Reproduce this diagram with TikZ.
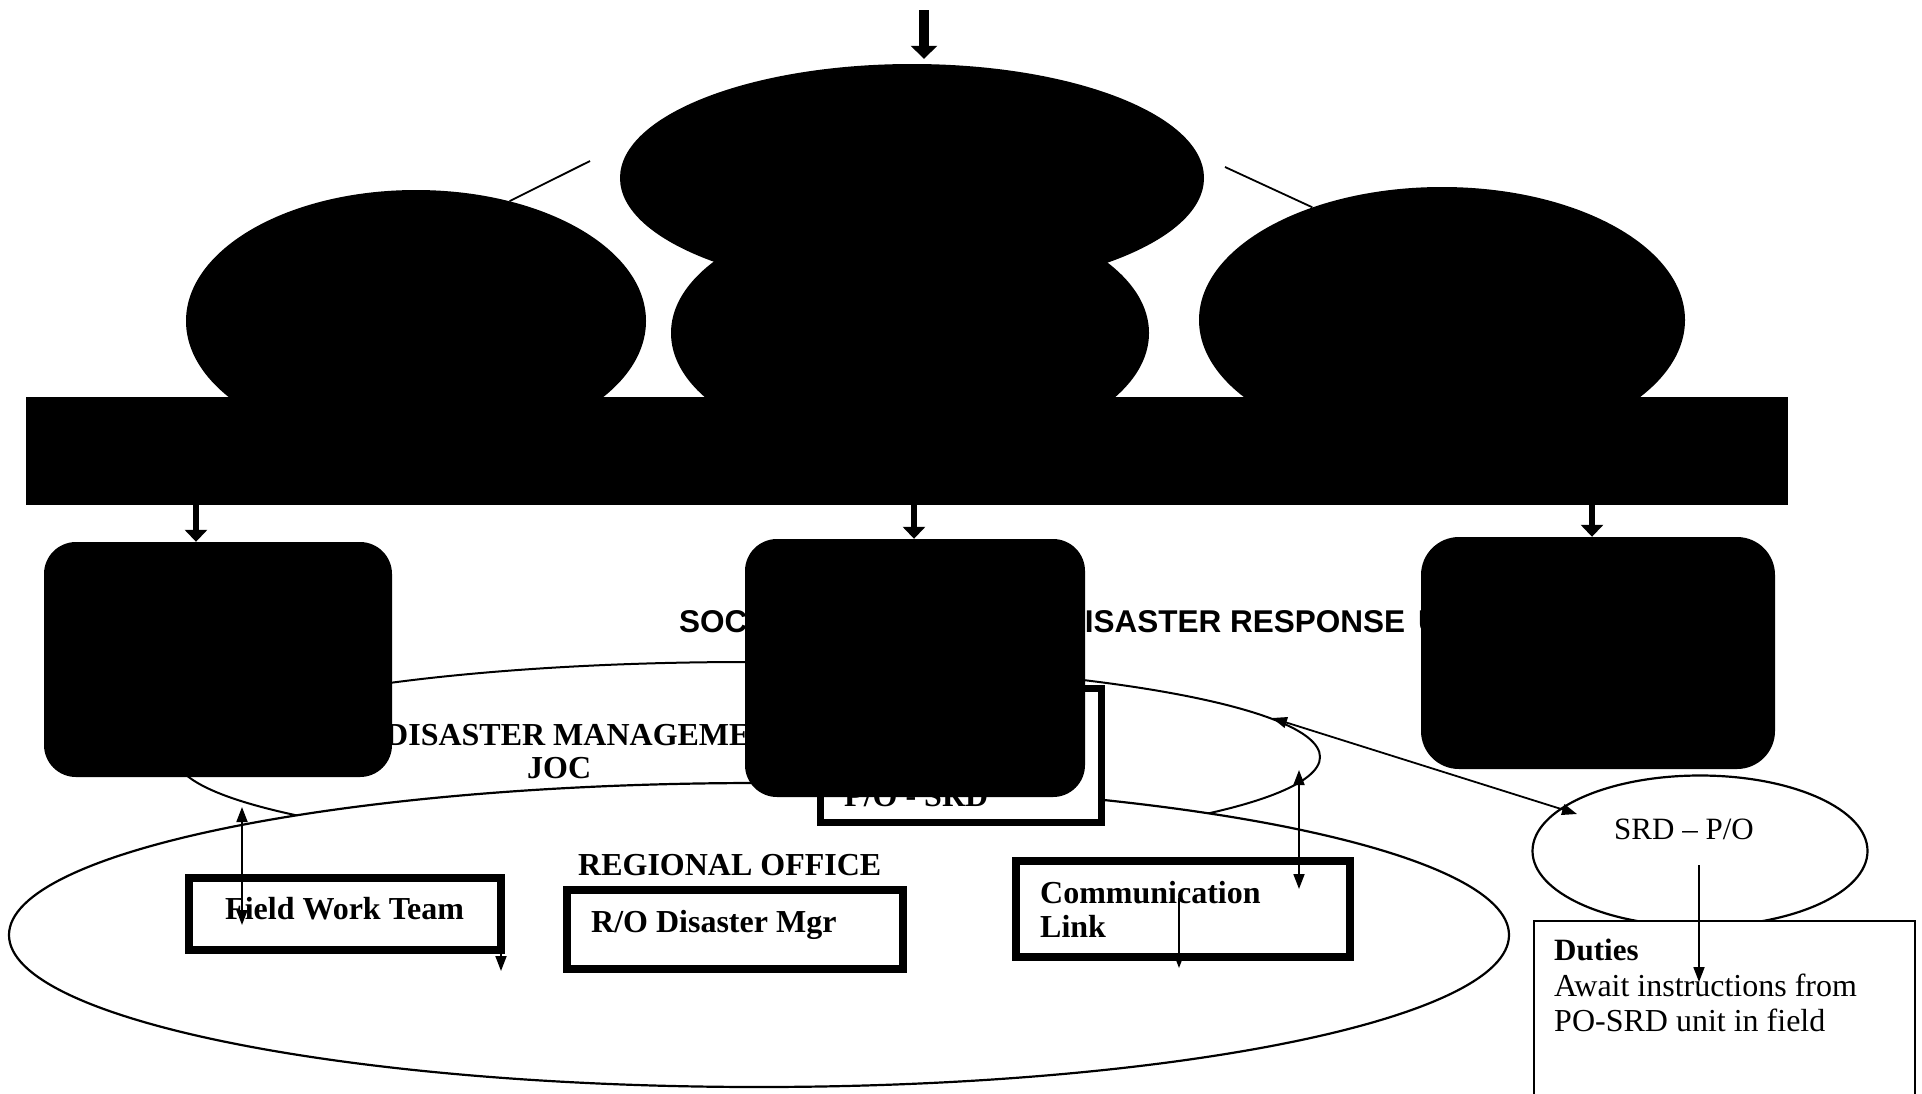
\documentclass[tikz,border=0pt]{standalone}
\usepackage{fontspec}
\setmainfont{Liberation Serif}
\newfontfamily\arialf{Liberation Sans}
\usetikzlibrary{shapes.geometric,arrows.meta}
\begin{document}
\begin{tikzpicture}[x=1pt,y=-1pt,
  blob/.style={ellipse,fill=black,draw=none,inner sep=0pt},
  blackbox/.style={rectangle,rounded corners=32pt,fill=black,draw=none,inner sep=0pt},
  thickbox/.style={rectangle,draw=black,line width=8pt,fill=white,inner sep=0pt},
  outline/.style={ellipse,draw=black,line width=2.2pt,fill=white,inner sep=0pt},
  toparrow/.style={line width=10pt,-{Triangle[width=26pt,length=13pt]}},
  bigarrow/.style={line width=6pt,-{Triangle[width=22pt,length=12pt]}},
  thinarrow/.style={line width=1.8pt,-{Triangle[width=11pt,length=15pt]}},
  twoarrow/.style={line width=1.8pt,{Triangle[width=11pt,length=15pt]}-{Triangle[width=11pt,length=15pt]}},
  thinline/.style={line width=1.8pt},
  bt/.style={font=\fontsize{32}{36}\selectfont\bfseries,inner sep=0pt,anchor=base west},
  rt/.style={font=\fontsize{32}{36}\selectfont,inner sep=0pt,anchor=base west},
  st/.style={font=\arialf\fontsize{31.5}{36}\selectfont\bfseries,inner sep=0pt,anchor=base west}
]
\path[use as bounding box] (0,0) rectangle (1922,1093);
\clip (0,0) rectangle (1922,1093);
\fill[white] (0,0) rectangle (1922,1093);

% black ellipses and bar
\node[blob,minimum width=460pt,minimum height=262pt] (lell) at (416,321) {};
\node[blob,minimum width=486pt,minimum height=266pt] (rell) at (1442,320) {};
\node[blob,minimum width=478pt,minimum height=250pt] (mell) at (910,333) {};
\node[blob,minimum width=584pt,minimum height=228pt] (topell) at (912,178) {};
\node[rectangle,fill=black,inner sep=0pt,minimum width=1762pt,minimum height=108pt] (bar) at (907,451) {};

\coordinate (lt) at (590,161);
\coordinate (rtc) at (1225,167);
\draw[thinline] (lt) -- (lell.52);
\draw[thinline] (rtc) -- (rell.139);

% JOC and regional ellipses
\node[outline,line width=2pt,minimum width=1144pt,minimum height=190pt] (joc) at (748,757) {};
\node[outline,minimum width=1500pt,minimum height=304pt] (reg) at (759,935) {};

% texts in the middle band
\node[st] (soc) at (679,632) {SOC};
\node[st] (dru) at (1062,632) {DISASTER RESPONSE \kern4pt UNIT};
\node[bt] (dm) at (385,745) {DISASTER MANAGEMENT};
\node[bt] (joct) at (527,778) {JOC};
\node[bt] (rot) at (578,875) {REGIONAL OFFICE};

% boxes
\node[thickbox,line width=7pt,minimum width=281pt,minimum height=134pt] (po) at (961,755.5) {};
\node[bt] (pot) at (844,806) {P/O - SRD};
\node[thickbox,minimum width=312pt,minimum height=72pt] (fw) at (345,914) {};
\node[bt] (fwt) at (225,919) {Field Work Team};
\node[thickbox,minimum width=336pt,minimum height=79pt] (rom) at (735,929.5) {};
\node[bt] (romt) at (591,932) {R/O Disaster Mgr};
\node[thickbox,minimum width=334pt,minimum height=96pt] (cl) at (1183,909) {};
\node[bt] (clt1) at (1040,903) {Communication};
\node[bt] (clt2) at (1040,937) {Link};

% SRD - P/O and duties
\node[outline,minimum width=335pt,minimum height=151pt] (srd) at (1700,851) {};
\node[rt,font=\fontsize{31}{36}\selectfont] (srdt) at (1614,839) {SRD -- P/O};
\node[rectangle,draw=black,line width=2.5pt,fill=white,inner sep=0pt,minimum width=381pt,minimum height=279pt] (duty) at (1724.5,1060.5) {};
\node[bt,font=\fontsize{31}{36}\selectfont\bfseries] (dt1) at (1554,960) {Duties};
\node[rt] (dt2) at (1554,996) {Await instructions from};
\node[rt] (dt3) at (1554,1031) {PO-SRD unit in field};

% black rounded boxes
\node[blackbox,minimum width=348pt,minimum height=235pt] (lbox) at (218,659.5) {};
\node[blackbox,minimum width=340pt,minimum height=258pt] (mbox) at (915,668) {};
\node[blackbox,rounded corners=38pt,minimum width=354pt,minimum height=232pt] (rbox) at (1598,653) {};

% thick arrows
\coordinate (tin) at (924,10);
\coordinate (b1) at (196,505);
\coordinate (b2) at (914,505);
\coordinate (b3) at (1592,505);
\draw[toparrow,shorten >=5pt] (tin) -- (tin |- topell.north);
\draw[bigarrow] (b1) -- (b1 |- lbox.north);
\draw[bigarrow] (b2) -- (b2 |- mbox.north);
\draw[bigarrow] (b3) -- (b3 |- rbox.north);

% thin arrows
\coordinate (f1) at (242,807);
\coordinate (f2) at (242,925);
\coordinate (c1) at (1299,770);
\coordinate (c2) at (1299,889);
\coordinate (j1) at (1272,718);
\coordinate (s1) at (1577,814);
\coordinate (ci1) at (1179,898);
\coordinate (ci2) at (1179,968);
\coordinate (fs1) at (501,945);
\coordinate (fs2) at (501,971);
\coordinate (d1) at (1699,865);
\coordinate (d2) at (1699,982);
\draw[twoarrow] (f1) -- (f2);
\draw[twoarrow] (c1) -- (c2);
\draw[twoarrow] (j1) -- (s1);
\draw[thinarrow] (ci1) -- (ci2);
\draw[thinarrow] (fs1) -- (fs2);
\draw[thinarrow] (d1) -- (d2);
\end{tikzpicture}
\end{document}
